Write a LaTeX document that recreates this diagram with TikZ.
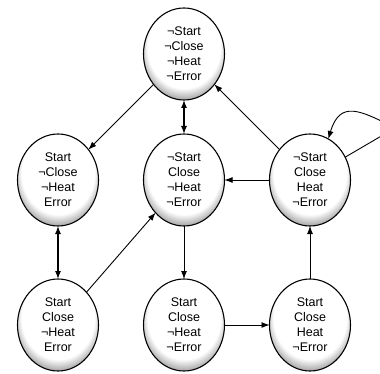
\documentclass[tikz,border=0pt]{standalone}
\usepackage{fontspec}
\setmainfont{Liberation Sans}
\usetikzlibrary{shapes.geometric,arrows.meta}
\pgfdeclareradialshading{ellshade}{\pgfpoint{0bp}{7bp}}{color(0bp)=(white); color(22.5bp)=(white); color(27.5bp)=(black!32); color(50bp)=(black!32)}
\begin{document}
\begin{tikzpicture}[x=1pt,y=-1pt,
  state/.style={ellipse, draw=black, line width=1.1pt, minimum width=81pt, minimum height=92pt,
    inner sep=0pt, outer sep=0pt, shade, shading=ellshade, align=center,
    font=\fontsize{12.5}{15}\selectfont},
  conn/.style={-{Latex[length=8pt,width=6pt]}, line width=0.9pt},
  bidir/.style={{Latex[length=8pt,width=6pt]}-{Latex[length=8pt,width=6pt]}, line width=1.3pt}]
\useasboundingbox (0,0) rectangle (380,374);
\node[state] (t)  at (184,54)  {¬Start\\¬Close\\¬Heat\\¬Error};
\node[state] (l)  at (58,180)  {Start\\¬Close\\¬Heat\\Error};
\node[state] (m)  at (184,180) {¬Start\\Close\\¬Heat\\¬Error};
\node[state] (r)  at (310,180) {¬Start\\Close\\Heat\\¬Error};
\node[state] (bl) at (58,325)  {Start\\Close\\¬Heat\\Error};
\node[state] (bm) at (184,325) {Start\\Close\\¬Heat\\¬Error};
\node[state] (br) at (310,325) {Start\\Close\\Heat\\¬Error};
\draw[conn] (t) -- (l);
\draw[bidir] (t) -- (m);
\draw[conn] (r) -- (t);
\draw[conn] (r) -- (m);
\draw[bidir] (l) -- (bl);
\draw[conn] (bl) -- (m);
\draw[conn] (m) -- (bm);
\draw[conn] (bm) -- (br);
\draw[conn] (br) -- (r);
\coordinate (apex) at (395,128);
\draw[conn] (r.33) -- (apex) .. controls (360,110) and (340,100) .. (r.66);
\end{tikzpicture}
\end{document}
